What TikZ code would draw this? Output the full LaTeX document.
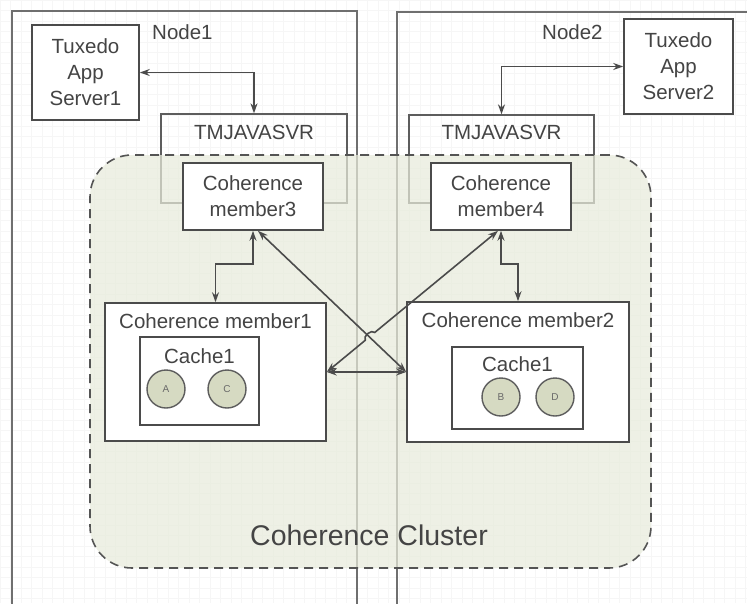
\documentclass[tikz,border=0pt]{standalone}
\usepackage{fontspec}
\setmainfont{Liberation Sans}
\usetikzlibrary{arrows.meta,calc}
\definecolor{ln}{RGB}{75,75,75}
\definecolor{tx}{RGB}{68,68,68}
\definecolor{clfill}{RGB}{232,235,219}
\definecolor{cifill}{RGB}{214,218,194}
\definecolor{gridc}{RGB}{246,246,246}
\tikzset{
  box/.style={draw=ln, line width=1.6pt, fill=white, inner sep=0pt, text=tx,
    font=\fontsize{20.5}{26}\selectfont, align=center},
  frame/.style={draw=ln!80, line width=1.6pt},
  svrbox/.style={draw=ln!90, line width=1.3pt, inner sep=0pt},
  toplabel/.style={anchor=center, inner sep=0pt, text=tx, font=\fontsize{20.5}{26}\selectfont},
  ball/.style={circle, draw=ln!90, line width=1.4pt, fill=cifill, minimum size=38pt,
    inner sep=0pt, text=tx!80, font=\fontsize{10}{12}\selectfont},
  conn/.style={draw=ln, line width=1.6pt, {Stealth[length=10pt,width=7pt]}-{Stealth[length=10pt,width=7pt]}},
  txt/.style={text=tx, inner sep=0pt, font=\fontsize{20.5}{26}\selectfont},
}
\begin{document}
\begin{tikzpicture}[x=1pt,y=-1pt]
\useasboundingbox (0,0) rectangle (747,603);
\clip (0,0) rectangle (747,603);
\fill[white] (0,0) rectangle (747,603);
\draw[gridc, line width=0.4pt, step=10.5pt] (0,0) grid (747,603);

% node frames (open at the bottom)
\draw[frame] (12,610) -- (12,11) -- (357,11) -- (357,610);
\draw[frame] (397,610) -- (397,12) -- (760,12);
\node[txt, anchor=west] (n1) at (152,32) {Node1};
\node[txt, anchor=west] (n2) at (542,32) {Node2};

% app servers
\node[box, minimum width=107pt, minimum height=95pt] (tux1) at (85.5,72.5) {Tuxedo\\App\\Server1};
\node[box, minimum width=109pt, minimum height=95pt] (tux2) at (678.5,66.5) {Tuxedo\\App\\Server2};

% TMJAVASVR containers
\node[svrbox, minimum width=186pt, minimum height=89pt,
  label={[toplabel, yshift=-19pt]north:TMJAVASVR}] (tmj1) at (254,158.5) {};
\node[svrbox, minimum width=185pt, minimum height=88pt,
  label={[toplabel, yshift=-18pt]north:TMJAVASVR}] (tmj2) at (501.5,159) {};

% coherence cluster
\node[draw=ln!95, dashed, dash pattern=on 9pt off 6pt, line width=1.6pt,
  fill=clfill, fill opacity=0.72, rounded corners=42pt,
  minimum width=561pt, minimum height=413pt, inner sep=0pt] (cl) at (370.5,361.5) {};
\node[txt, font=\fontsize{28.5}{32}\selectfont] (cllab) at (369,535) {Coherence Cluster};

% coherence members
\node[box, minimum width=140pt, minimum height=67pt] (m3) at (253,196.5) {Coherence\\member3};
\node[box, minimum width=140pt, minimum height=67pt] (m4) at (501,196.5) {Coherence\\member4};

\node[box, minimum width=221pt, minimum height=138pt,
  label={[toplabel, yshift=-19pt]north:Coherence member1}] (m1) at (215.5,372) {};
\node[box, minimum width=222pt, minimum height=140pt,
  label={[toplabel, yshift=-19pt]north:Coherence member2}] (m2) at (518,372) {};

\node[box, minimum width=119pt, minimum height=88pt,
  label={[toplabel, yshift=-20pt]north:Cache1}] (ca1) at (199.5,381) {};
\node[box, minimum width=131pt, minimum height=82pt,
  label={[toplabel, yshift=-18pt]north:Cache1}] (ca2) at (517.5,388) {};

\node[ball] (ba) at (166,389) {A};
\node[ball] (bc) at (227,389) {C};
\node[ball] (bb) at (501,397) {B};
\node[ball] (bd) at (555,397) {D};

% connectors
\draw[conn] (tux1.east) -| (tmj1.north);
\draw[conn] (tmj2.north) |- (tux2.west);
\draw[conn] (m3.south) -- ++(0,33) -| (m1.north);
\draw[conn] (m4.south) -- ++(0,33) -| (m2.north);
\draw[conn] ([xshift=5pt]m3.south) -- (m2.west);
\coordinate (m4s) at ([xshift=-3pt]m4.south);
\draw[conn] (m4s) -- ($(m4s)!0.72!(m1.east)$) to[bend right=90] ($(m4s)!0.775!(m1.east)$) -- (m1.east);
\draw[conn] (m1.east) -- (m2.west);
\end{tikzpicture}
\end{document}
